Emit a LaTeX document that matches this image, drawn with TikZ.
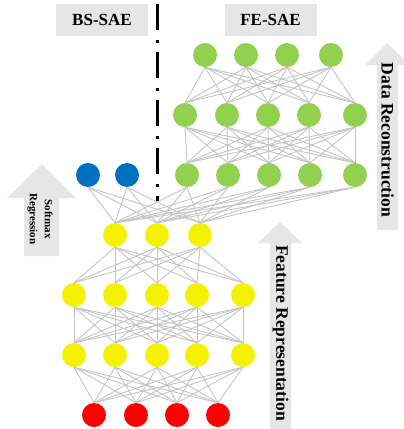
\documentclass[tikz,border=0pt]{standalone}
\usepackage{fontspec}
\setmainfont{Liberation Serif}
\usepackage{tikz}

\definecolor{feGreen}{HTML}{92D050}
\definecolor{bsBlue}{HTML}{0070C0}
\definecolor{repYellow}{HTML}{F5F200}
\definecolor{inRed}{HTML}{FF0000}
\definecolor{linkGray}{HTML}{C4C4C4}
\definecolor{boxGray}{HTML}{E6E6E6}

\tikzset{
	neuron/.style={circle,minimum size=24pt,inner sep=0pt},
	link/.style={draw=linkGray,line width=0.9pt},
	titlebox/.style={fill=boxGray,minimum width=92pt,minimum height=32pt,inner sep=0pt,font=\bfseries\fontsize{17}{19}\selectfont},
	flowtext/.style={rotate=-90,font=\bfseries\fontsize{17.5}{19}\selectfont,inner sep=0pt}
}

\begin{document}
\begin{tikzpicture}[x=1pt,y=-1pt]
	\useasboundingbox (0,0) rectangle (404,429);

	% gray arrows behind
	\fill[boxGray] (365,65) -- (387,43) -- (410,65) -- (398,65) -- (398,230) -- (377,230) -- (377,65) -- cycle;
	\fill[boxGray] (258,243) -- (280,222) -- (302,243) -- (291,243) -- (291,429) -- (270,429) -- (270,243) -- cycle;
	\fill[boxGray] (7,198) -- (42,164) -- (76,198) -- (59,198) -- (59,256) -- (24,256) -- (24,198) -- cycle;

	\node[flowtext] (recon) at (387.5,140) {Data Reconstruction};
	\node[flowtext] (feat) at (280.5,333) {Feature Representation};
	\node[flowtext,align=center,font=\bfseries\fontsize{11}{15}\selectfont] (soft) at (40,219) {Softmax\\Regression};

	% titles and divider
	\node[titlebox] (bs) at (102,20) {BS-SAE};
	\node[titlebox] (fe) at (270.5,20) {FE-SAE};
	\coordinate (divtop) at (157,4);
	\coordinate (divbot) at (157,201);
	\draw[line width=3pt,dash pattern=on 26pt off 10pt on 3pt off 9pt] (divtop) -- (divbot);

	% neurons
	\begin{scope}[every node/.style={neuron}]
		\foreach \x [count=\i] in {205,246,287,331}
			\node[fill=feGreen] (gt\i) at (\x,55) {};
		\foreach \x [count=\i] in {185,227,268,309,355}
			\node[fill=feGreen] (gm\i) at (\x,115) {};
		\foreach \x [count=\i] in {187,228,269,310,355}
			\node[fill=feGreen] (gb\i) at (\x,175) {};
		\node[fill=bsBlue] (s1) at (88,175) {};
		\node[fill=bsBlue] (s2) at (127,175) {};
		\foreach \x [count=\i] in {115,157,200}
			\node[fill=repYellow] (yt\i) at (\x,235) {};
		\foreach \x [count=\i] in {74,115,157,197,243}
			\node[fill=repYellow] (ym\i) at (\x,295) {};
		\foreach \x [count=\i] in {74,115,157,197,243}
			\node[fill=repYellow] (yb\i) at (\x,355) {};
		\foreach \x [count=\i] in {94,136,177,218}
			\node[fill=inRed] (r\i) at (\x,415) {};
	\end{scope}

	% connections
	\begin{scope}[every path/.style={link}]
		\foreach \i in {1,...,4}
			\foreach \j in {1,...,5}
				\path (gt\i.south) -- (gm\j.north);
		\foreach \i in {1,...,5}
			\foreach \j in {1,...,5}
				\path (gm\i.south) -- (gb\j.north);
		\foreach \i in {1,...,5}
			\foreach \j in {1,...,3}
				\path (gb\i.south) -- (yt\j.north);
		\foreach \i in {1,2}
			\foreach \j in {1,...,3}
				\path (s\i.south) -- (yt\j.north);
		\foreach \i in {1,...,3}
			\foreach \j in {1,...,5}
				\path (yt\i.south) -- (ym\j.north);
		\foreach \i in {1,...,5}
			\foreach \j in {1,...,5}
				\path (ym\i.south) -- (yb\j.north);
		\foreach \i in {1,...,5}
			\foreach \j in {1,...,4}
				\path (yb\i.south) -- (r\j.north);
	\end{scope}
\end{tikzpicture}
\end{document}
